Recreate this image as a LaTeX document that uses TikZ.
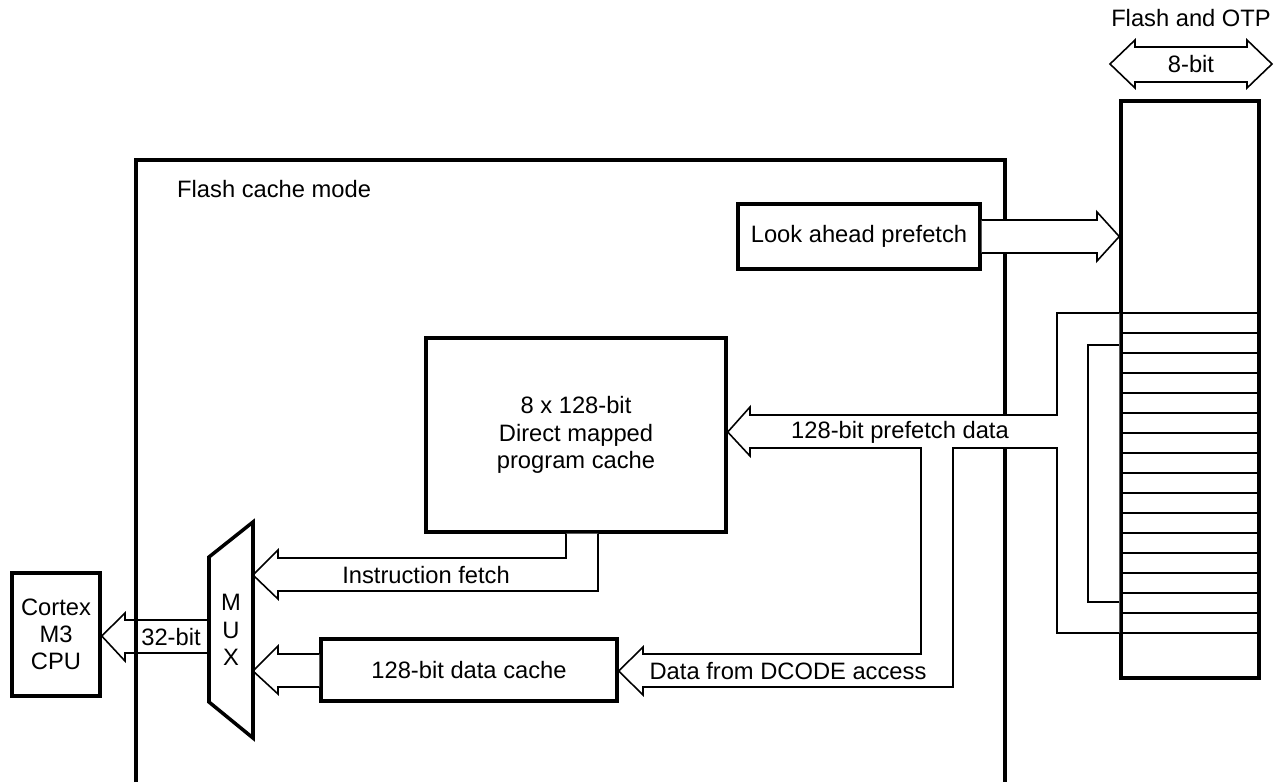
\documentclass[tikz,border=0pt]{standalone}
\usepackage{fontspec}
\setmainfont{Liberation Sans}
\usetikzlibrary{positioning, calc}

\begin{document}
\begin{tikzpicture}[
    x=0.02cm, y=-0.02cm,
    font=\fontsize{13.5}{15.5}\selectfont,
    blk/.style={draw=black, line width=2pt, fill=white, align=center},
    bus/.style={draw=black, line width=0.9pt, fill=white, line join=miter},
    row/.style={draw=black, line width=0.7pt}
]
    \useasboundingbox (0,0) rectangle (1275,782);

    % --- Flash cache mode frame (open at the bottom) ---
    \draw[line width=2pt] (136,782) -- (136,160) -- (1005,160) -- (1005,782);
    \node[anchor=west] (mode) at (171,189) {Flash cache mode};

    % --- Blocks ---
    \node[blk, minimum width=1.76cm, minimum height=2.46cm] (cpu) at (56,634.5) {Cortex\\M3\\CPU};
    \node[blk, minimum width=5.92cm, minimum height=1.24cm] (dcache) at (469,670) {128-bit data cache};
    \node[blk, minimum width=6cm, minimum height=3.88cm] (pcache) at (576,435) {8 x 128-bit\\Direct mapped\\program cache};
    \node[blk, minimum width=4.84cm, minimum height=1.3cm] (ahead) at (859,236.5) {Look ahead prefetch};
    \node[blk, minimum width=2.76cm, minimum height=11.54cm] (flash) at (1190,389.5) {};
    \foreach \y in {313,333,...,633}
        \draw[row] (flash.west |- 0,\y) -- (flash.east |- 0,\y);

    % --- Flash and OTP port ---
    \node (otp) at (1191,18) {Flash and OTP};
    \draw[bus] (1110,64) -- (1135,40) -- (1135,47) -- (1247,47) -- (1247,40) -- (1272,64)
        -- (1247,88) -- (1247,82) -- (1135,82) -- (1135,88) -- cycle;
    \node (port) at (1191,64) {8-bit};

    % --- Look ahead prefetch to flash ---
    \draw[bus] (ahead.east |- 0,220) -- (1097,220) -- (1097,212) -- (flash.west |- ahead.east)
        -- (1097,261) -- (1097,253) -- (ahead.east |- 0,253);

    % --- Prefetch data and DCODE bus ---
    \draw[bus] (flash.west |- 0,313) -- (1057,313) -- (1057,415) -- (750,415) -- (750,407)
        -- (pcache.east |- 0,432) -- (750,456) -- (750,448) -- (921,448) -- (921,654)
        -- (643,654) -- (643,647) -- (dcache.east |- 0,671) -- (643,695) -- (643,687)
        -- (953,687) -- (953,448) -- (1057,448) -- (1057,633) -- (flash.west |- 0,633);
    \draw[row] (flash.west |- 0,345) -- (1088,345) -- (1088,602) -- (flash.west |- 0,602);
    \node (pfdata) at (900,432) {128-bit prefetch data};
    \node (dcode) at (788,671) {Data from DCODE access};

    % --- Instruction fetch ---
    \draw[bus] (566,0 |- pcache.south) -- (566,558) -- (278,558) -- (278,550) -- (253,575)
        -- (278,599) -- (278,591) -- (598,591) -- (598,0 |- pcache.south);
    \node (ifetch) at (426,575) {Instruction fetch};

    % --- Data cache to MUX ---
    \draw[bus] (dcache.west |- 0,654) -- (278,654) -- (278,646) -- (253,671) -- (278,694)
        -- (278,687) -- (dcache.west |- 0,687);

    % --- MUX ---
    \draw[line width=2pt, fill=white, line join=miter] (209,557) -- (253,522) -- (253,738) -- (209,702) -- cycle;
    \node[align=center] (mux) at (231,630) {M\\U\\X};

    % --- MUX to CPU ---
    \draw[bus, fill=none] (209,620) -- (125,620) -- (125,613) -- (cpu.east |- 0,636)
        -- (125,661) -- (125,653) -- (209,653);
    \node (w32) at (171,637) {32-bit};
\end{tikzpicture}
\end{document}
